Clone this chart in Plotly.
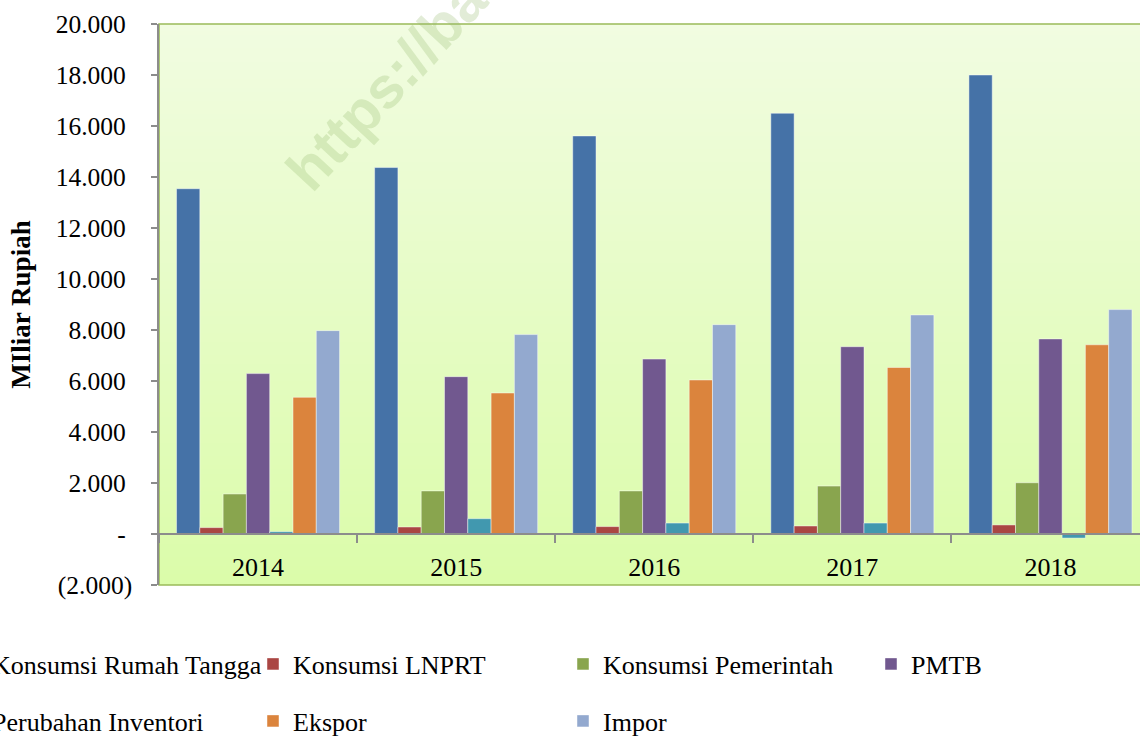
import base64
import struct
import zlib
import plotly.graph_objects as go

# ---------------- data ----------------
years = ["2014", "2015", "2016", "2017", "2018"]
series_names = [
    "Konsumsi Rumah Tangga",
    "Konsumsi LNPRT",
    "Konsumsi Pemerintah",
    "PMTB",
    "Perubahan Inventori",
    "Ekspor",
    "Impor",
]
konsumsi_rumah_tangga = [13540, 14370, 15610, 16500, 18000]
konsumsi_lnprt = [250, 275, 290, 315, 355]
konsumsi_pemerintah = [1570, 1690, 1690, 1880, 2010]
pmtb = [6290, 6170, 6860, 7345, 7650]
perubahan_inventori = [90, 600, 430, 430, -160]
ekspor = [5360, 5530, 6040, 6530, 7420]
impor = [7975, 7820, 8210, 8590, 8800]
series_values = [
    konsumsi_rumah_tangga,
    konsumsi_lnprt,
    konsumsi_pemerintah,
    pmtb,
    perubahan_inventori,
    ekspor,
    impor,
]
y_tickvals = [-2000, 0, 2000, 4000, 6000, 8000, 10000, 12000, 14000, 16000, 18000, 20000]
y_ticktext = ["(2.000)", "-", "2.000", "4.000", "6.000", "8.000", "10.000",
              "12.000", "14.000", "16.000", "18.000", "20.000"]
y_title = "MIliar Rupiah"
watermark = "https://ba"

# ---------------- style ----------------
colors = ["#4572A7", "#AA4643", "#89A54E", "#71588F", "#4198AF", "#DB843D", "#93A9CF"]
SERIF = "Liberation Serif"
W, H = 1140, 738
ML, MR, MT, MB = 159, 0, 24, 153
PW = W - ML - MR
PH = H - MT - MB
GROUP_W = 198.1


def pad_label(t):
    # keep positive labels and the dash aligned before the ")" of negatives
    return t if t.startswith("(") else t + "\u00a0"


def gradient_png(top, bottom, n=128):
    raw = b""
    for i in range(n):
        t = i / (n - 1)
        c = bytes(int(round(top[k] + (bottom[k] - top[k]) * t)) for k in range(3))
        raw += b"\x00" + c + c
    def chunk(tag, data):
        return (struct.pack(">I", len(data)) + tag + data
                + struct.pack(">I", zlib.crc32(tag + data) & 0xFFFFFFFF))
    png = (b"\x89PNG\r\n\x1a\n"
           + chunk(b"IHDR", struct.pack(">IIBBBBB", 2, n, 8, 2, 0, 0, 0))
           + chunk(b"IDAT", zlib.compress(raw))
           + chunk(b"IEND", b""))
    return "data:image/png;base64," + base64.b64encode(png).decode()


def px_to_paper_x(p):
    return (p - ML) / PW


def px_to_paper_y(p):
    return (MT + PH - p) / PH


fig = go.Figure()
legend_text_x = [-8, 293, 603, 911]
legend_row_y = [664, 721]

for i, (name, vals) in enumerate(zip(series_names, series_values)):
    lg = "legend" if i == 0 else f"legend{i + 1}"
    fig.add_trace(go.Bar(
        x=years, y=vals, name=name,
        marker=dict(color=colors[i], line=dict(color="rgba(255,255,255,0.45)", width=1)),
        legend=lg,
    ))

legends = {}
for i in range(len(series_names)):
    lg = "legend" if i == 0 else f"legend{i + 1}"
    col, row = i % 4, i // 4
    legends[lg] = dict(
        x=px_to_paper_x(legend_text_x[col] - 40), xanchor="left",
        y=px_to_paper_y(legend_row_y[row]), yanchor="middle",
        bgcolor="rgba(0,0,0,0)", borderwidth=0,
        font=dict(family=SERIF, size=26, color="#000000"),
        itemwidth=30,
    )

fig.update_layout(
    width=W, height=H,
    margin=dict(l=ML, r=MR, t=MT, b=MB, pad=0, autoexpand=False),
    paper_bgcolor="#FFFFFF",
    plot_bgcolor="rgba(0,0,0,0)",
    barmode="group", bargap=0.177, bargroupgap=0,
    showlegend=True,
    images=[dict(
        source=gradient_png((241, 252, 225), (219, 252, 170)),
        xref="paper", yref="paper", x=0, y=1, sizex=1, sizey=1,
        xanchor="left", yanchor="top", sizing="stretch", layer="below",
    )],
    shapes=[dict(
        type="rect", xref="paper", yref="paper", x0=0, x1=1.02, y0=0, y1=1,
        line=dict(color="#9BBB59", width=1.6), fillcolor="rgba(0,0,0,0)", layer="below",
    )],
    annotations=[dict(
        text=watermark, xref="paper", yref="paper",
        x=px_to_paper_x(386), y=px_to_paper_y(84),
        xanchor="center", yanchor="middle", textangle=-47, showarrow=False,
        font=dict(family="Liberation Sans", size=58, color="rgba(150,185,110,0.28)",
                  weight="bold"),
    )],
    xaxis=dict(
        type="category", range=[-0.5, -0.5 + PW / GROUP_W],
        anchor="free", position=2000 / 22000,
        showline=True, linecolor="#8C8C8C", linewidth=1.5,
        ticks="outside", ticklen=8, tickwidth=1.5, tickcolor="#8C8C8C",
        tickson="boundaries", ticklabelstandoff=10,
        tickfont=dict(family=SERIF, size=26, color="#000000"),
        showgrid=False, zeroline=False,
    ),
    yaxis=dict(
        range=[-2000, 20000],
        tickvals=y_tickvals, ticktext=[pad_label(t) for t in y_ticktext],
        showline=True, linecolor="#8C8C8C", linewidth=1.5,
        ticks="outside", ticklen=6, tickwidth=1.5, tickcolor="#8C8C8C",
        ticklabelstandoff=14,
        tickfont=dict(family=SERIF, size=25.5, color="#000000"),
        title=dict(text=y_title, standoff=17,
                   font=dict(family=SERIF, size=27, color="#000000", weight="bold")),
        showgrid=False, zeroline=False,
    ),
    **legends,
)

fig.write_html("out.html")
